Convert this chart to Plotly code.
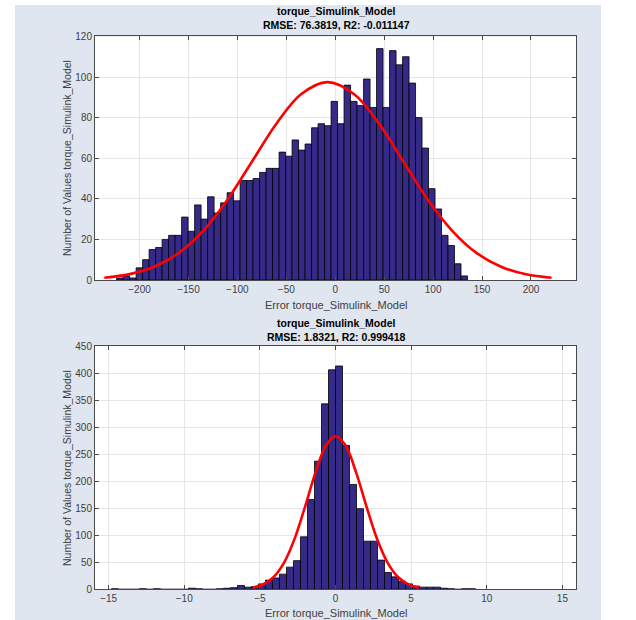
import plotly.graph_objects as go

W, H = 636, 620

# ---------------- data ----------------
top_bin_start = -223.4
top_bin_width = 6.64
top_counts = [1, 2, 1, 6, 10, 15, 16, 20, 22, 22, 31, 24, 37, 30, 41, 33, 38, 43, 39,
              49, 49, 50, 53, 55, 55, 63, 61, 69, 64, 67, 75, 77, 76, 88, 77, 96, 88,
              86, 99, 85, 114, 85, 113, 106, 110, 97, 80, 65, 45, 35, 22, 17, 8, 2]
top_fit_x = [-236, -210, -185, -160, -135, -110, -85, -60, -35, -8,
             20, 45, 70, 95, 120, 145, 170, 195, 221]
top_fit_y = [1.1, 2.9, 6.5, 13.3, 24.2, 39.7, 58.4, 77.1, 91.5, 97.5,
             91.3, 76.8, 58.0, 39.3, 24.0, 13.1, 6.4, 2.8, 1.1]
top_title = ["torque_Simulink_Model", "RMSE: 76.3819, R2: -0.011147"]
top_xticks = [-200, -150, -100, -50, 0, 50, 100, 150, 200]
top_yticks = [0, 20, 40, 60, 80, 100, 120]

bottom_bin_start = -14.816
bottom_bin_width = 0.463
bottom_counts = [1, 0, 0, 0, 1, 0, 1, 0, 0, 0, 0, 2, 1, 0, 0, 1, 2, 3, 7, 4, 5, 10,
                 17, 21, 28, 41, 53, 97, 166, 237, 343, 406, 413, 266, 194, 149, 89,
                 89, 54, 31, 23, 15, 10, 6, 4, 4, 4, 2, 1, 0, 1, 1]
bottom_fit_x = [-5.47, -4.8, -4.1, -3.4, -2.7, -2.0, -1.3, -0.6, 0.02,
                0.65, 1.35, 2.05, 2.75, 3.45, 4.15, 4.85, 5.51]
bottom_fit_y = [3.1, 8.8, 22.5, 49.4, 93.8, 153.9, 218.2, 267.2, 283,
                266.7, 217.3, 153.0, 93.0, 48.9, 22.2, 8.7, 3.1]
bottom_title = ["torque_Simulink_Model", "RMSE: 1.8321, R2: 0.999418"]
bottom_xticks = [-15, -10, -5, 0, 5, 10, 15]
bottom_yticks = [0, 50, 100, 150, 200, 250, 300, 350, 400, 450]

x_label = "Error torque_Simulink_Model"
y_label = "Number of Values torque_Simulink_Model"

# ---------------- style ----------------
BAR = "#352a87"
FIT = "#ff0000"
PANEL = "#dfe6f0"
AXC = "#4a4a4a"
GRID = "#e6e6e6"
TXT = "#404040"
FONT = "Liberation Sans, Arial, sans-serif"


def centers(start, width, counts):
    return [start + width * (i + 0.5) for i in range(len(counts))]


fig = go.Figure()
fig.add_trace(go.Bar(x=centers(top_bin_start, top_bin_width, top_counts), y=top_counts,
                     width=top_bin_width, marker=dict(color=BAR, line=dict(color="#000000", width=0.8)),
                     xaxis="x", yaxis="y", showlegend=False, hoverinfo="skip"))
fig.add_trace(go.Scatter(x=top_fit_x, y=top_fit_y, mode="lines",
                         line=dict(color=FIT, width=2.6, shape="spline"),
                         xaxis="x", yaxis="y", showlegend=False, hoverinfo="skip"))
fig.add_trace(go.Bar(x=centers(bottom_bin_start, bottom_bin_width, bottom_counts), y=bottom_counts,
                     width=bottom_bin_width, marker=dict(color=BAR, line=dict(color="#000000", width=0.8)),
                     xaxis="x2", yaxis="y2", showlegend=False, hoverinfo="skip"))
fig.add_trace(go.Scatter(x=bottom_fit_x, y=bottom_fit_y, mode="lines",
                         line=dict(color=FIT, width=2.6, shape="spline"),
                         xaxis="x2", yaxis="y2", showlegend=False, hoverinfo="skip"))


def px(x):
    return x / W


def py(y):
    return 1 - y / H


axis_common = dict(showline=True, linecolor=AXC, linewidth=1, mirror="ticks", ticks="inside",
                   ticklen=4, tickcolor=AXC, showgrid=True, gridcolor=GRID, gridwidth=1,
                   zeroline=False, automargin=False,
                   tickfont=dict(family=FONT, size=10, color=TXT))

fig.update_layout(
    template="none",
    width=W, height=H, margin=dict(l=0, r=0, t=0, b=0, pad=0, autoexpand=False),
    paper_bgcolor=PANEL, plot_bgcolor="#ffffff", bargap=0, showlegend=False,
    font=dict(family=FONT),
    xaxis=dict(domain=[px(95), px(576)], range=[-245.5, 246], tickvals=top_xticks,
               anchor="y", **axis_common),
    yaxis=dict(domain=[py(280), py(36.4)], range=[0, 120], tickvals=top_yticks,
               anchor="x", **axis_common),
    xaxis2=dict(domain=[px(95), px(576)], range=[-15.9, 15.9], tickvals=bottom_xticks,
                anchor="y2", **axis_common),
    yaxis2=dict(domain=[py(589.3), py(346)], range=[0, 450], tickvals=bottom_yticks,
                anchor="x2", **axis_common),
)

# white margins around the figure panel
shapes = [
    dict(type="rect", xref="paper", yref="paper", x0=0, x1=px(15), y0=0, y1=1,
         fillcolor="#ffffff", line=dict(width=0), layer="below"),
    dict(type="rect", xref="paper", yref="paper", x0=0, x1=1, y0=py(5), y1=1,
         fillcolor="#ffffff", line=dict(width=0), layer="below"),
    dict(type="rect", xref="paper", yref="paper", x0=px(601), x1=1, y0=0, y1=1,
         fillcolor="#ffffff", line=dict(width=0), layer="below"),
]
fig.update_layout(shapes=shapes)

ann = []
cx = px(336)
for txt, y in [(top_title[0], 11), (top_title[1], 25), (bottom_title[0], 323), (bottom_title[1], 337)]:
    ann.append(dict(text="<b>%s</b>" % txt, x=cx, y=py(y), xref="paper", yref="paper",
                    showarrow=False, xanchor="center", yanchor="middle",
                    font=dict(family=FONT, size=10.5, color="#000000")))
for y in [305, 613]:
    ann.append(dict(text=x_label, x=cx, y=py(y), xref="paper", yref="paper",
                    showarrow=False, xanchor="center", yanchor="middle",
                    font=dict(family=FONT, size=11, color=TXT)))
for y in [158, 468]:
    ann.append(dict(text=y_label, x=px(67), y=py(y), xref="paper", yref="paper",
                    showarrow=False, xanchor="center", yanchor="middle", textangle=-90,
                    font=dict(family=FONT, size=10.5, color=TXT)))
fig.update_layout(annotations=ann)

fig.write_html("out.html", config={"displayModeBar": False, "staticPlot": True},
               post_script="document.body.style.margin='0';document.body.style.overflow='hidden';")
